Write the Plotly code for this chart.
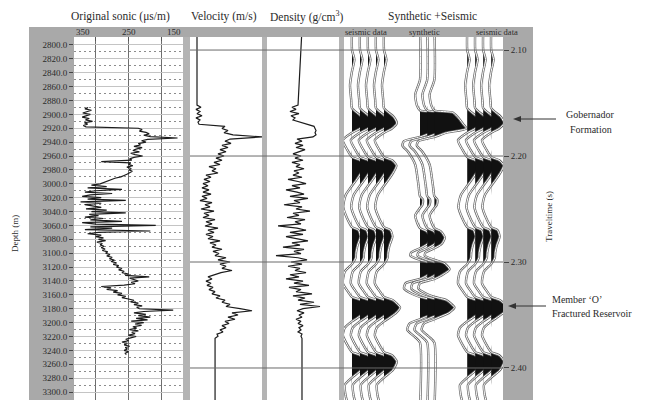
import plotly.graph_objects as go

# ---------------- well-log data ----------------
# Original sonic log (us/m), sampled every 2 m starting at 2890 m
sonic_top_depth = 2890
sonic_step = 2
sonic = [
    324, 330, 318, 327, 334, 320, 326, 335, 322, 329, 316, 331, 325, 333, 328,
    232, 225, 230, 218, 212, 222, 210, 160, 215,
    226, 218, 232, 228, 240, 225, 236, 242, 230, 246, 238, 224,
    240, 248, 244, 300, 246, 250, 242, 253,
    245, 249, 243, 247, 252,
    258, 264, 275, 282, 290, 297, 302,
    318, 290, 325, 262, 310, 330, 280, 320, 335, 300,
    325, 255, 338, 300, 330,
    315, 300, 328, 290, 318, 255, 322, 305,
    330, 296, 320, 262, 335, 310,
    200, 320, 280, 330, 210, 305, 325,
    300, 310, 296, 305, 292, 308, 298, 302, 295,
    300, 293, 298, 288, 292, 284, 290, 280, 285, 276, 282, 272, 278, 268,
    272, 262, 268, 258, 262, 250, 256,
    212, 248, 240, 232, 245, 238,
    258, 300, 282, 290, 270, 278, 262, 270, 255, 262,
    250, 240, 246, 232, 240, 225, 235,
    230, 168, 222,
    240, 218, 232, 210, 236, 215, 245, 222, 238, 226, 242,
    235, 248, 232, 244, 238, 250, 236, 246,
    255, 250, 262, 252, 258, 248, 256,
    252, 258, 250, 256, 254,
]
depth = [sonic_top_depth + sonic_step * i for i in range(len(sonic))]

# Velocity (m/s) and density (g/cm3) in two-way time, every 2 ms from 2.152 s
log_top_time = 2.152
log_step = 0.002
velocity = [
    1986, 2264, 1917, 2194, 1986, 2333, 1917, 2194, 2055, 2125,
    3930, 3722, 4139, 3861, 4486, 6500, 4278, 3930, 4347, 3722,
    4139, 3583, 4000, 3444, 3861, 3306, 3722, 3167, 3583, 2819,
    3306, 3028, 3444, 2611, 2958, 2472, 2889, 2403, 2750, 2333,
    2819, 2403, 2958, 2333, 2681, 2194, 3028, 2542, 2889, 2264,
    3167, 2472, 2819, 2403, 3236, 2611, 3028, 2542, 3444, 2750,
    3167, 2611, 3097, 2750, 3583, 2889, 3306, 3028, 3722, 3097,
    3514, 3236, 4000, 3444, 4278, 3583, 4000, 3722, 4417, 3653,
    3167, 2750, 3028, 2611, 2958, 2681, 3097, 2819, 3236, 3028,
    3583, 3306, 3930, 3722, 4278, 4000, 4972, 5806, 4417, 4833,
    4139, 4625, 3930, 4208, 3722, 4000, 3583, 3792, 3375, 3444,
]
density = [
    2.381, 2.297, 2.353, 2.269, 2.394, 2.283, 2.339, 2.311, 2.408, 2.519,
    2.603, 2.617, 2.631, 2.617, 2.631, 2.589, 2.367, 2.436, 2.339, 2.450,
    2.353, 2.478, 2.381, 2.311, 2.422, 2.339, 2.450, 2.297, 2.408, 2.353,
    2.464, 2.325, 2.394, 2.311, 2.436, 2.242, 2.381, 2.492, 2.297, 2.408,
    2.214, 2.367, 2.464, 2.269, 2.519, 2.325, 2.408, 2.186, 2.436, 2.353,
    2.547, 2.311, 2.394, 2.228, 2.478, 2.339, 2.422, 2.103, 2.367, 2.492,
    2.269, 2.450, 2.214, 2.394, 2.519, 2.297, 2.408, 2.172, 2.464, 2.325,
    2.422, 2.075, 2.381, 2.506, 2.283, 2.436, 2.242, 2.408, 2.339, 2.492,
    2.269, 2.394, 2.214, 2.450, 2.325, 2.533, 2.255, 2.422, 2.353, 2.575,
    2.311, 2.478, 2.381, 2.603, 2.408, 2.686, 2.450, 2.367, 2.464, 2.394,
    2.436, 2.353, 2.422, 2.381, 2.450, 2.394, 2.422, 2.381, 2.436, 2.422,
]
log_time = [log_top_time + log_step * i for i in range(len(velocity))]

# constant values drawn above / below the logged interval
vel_above, vel_below = 1986, 3240
den_above, den_below = 2.436, 2.436
time_above, time_below_start, time_below = 2.08, 2.372, 2.44

# ---------------- seismic / synthetic wiggles ----------------
seis_time = [2.080, 2.100, 2.109, 2.120, 2.133, 2.147, 2.155, 2.163, 2.169, 2.174,
             2.178, 2.185, 2.194, 2.201, 2.204, 2.209, 2.215, 2.223, 2.228, 2.237,
             2.248, 2.259, 2.267, 2.270, 2.276, 2.284, 2.291, 2.296, 2.302, 2.309,
             2.320, 2.328, 2.333, 2.336, 2.343, 2.348, 2.353, 2.356, 2.362, 2.369,
             2.378, 2.385, 2.388, 2.394, 2.402, 2.409, 2.416, 2.426, 2.440]
seis_amp = [0.0, 0.0, 0.3, 0.0, -0.25, -0.1, 0.0, 1.2, 1.6, 1.0,
            0.0, -1.15, -0.6, 0.0, 1.0, 1.55, 1.2, 0.5, 0.0, -0.8,
            -1.1, -0.6, 0.0, 0.8, 1.05, 0.7, 0.5, 0.45, 0.0, -0.9,
            -1.15, -0.5, 0.0, 1.1, 2.0, 1.5, 0.6, 0.0, -0.9, -1.15,
            -0.6, 0.0, 1.0, 1.6, 1.1, 0.0, -0.9, -0.8, -0.3]

syn_time = [2.080, 2.128, 2.142, 2.152, 2.157, 2.159, 2.164, 2.170, 2.174, 2.178,
            2.182, 2.186, 2.190, 2.196, 2.208, 2.227, 2.238, 2.241, 2.246, 2.249,
            2.256, 2.262, 2.268, 2.271, 2.277, 2.283, 2.287, 2.291, 2.294, 2.298,
            2.301, 2.307, 2.313, 2.316, 2.320, 2.325, 2.330, 2.333, 2.336, 2.343,
            2.348, 2.352, 2.354, 2.358, 2.364, 2.371, 2.376, 2.440]
syn_amp = [0.0, 0.0, -0.6, -0.4, 0.0, 2.3, 3.0, 3.6, 4.0, 1.5,
           0.0, -2.0, -2.2, -1.5, -0.6, -0.2, 0.0, 0.35, 0.3, 0.0,
           -0.6, -0.4, 0.0, 0.8, 1.3, 0.9, 0.0, -1.1, -1.2, 0.0,
           1.2, 1.9, 0.8, 0.0, -1.8, -2.0, -1.0, 0.0, 1.5, 2.5,
           1.8, 0.6, 0.0, -1.3, -1.6, -0.6, 0.0, 0.0]

left_traces = [1.0, 2.0, 3.0, 4.0, 5.0]
syn_traces = [9.5, 10.4, 11.3]
right_traces = [15.4, 16.4, 17.4, 18.4]

time_ticks = [2.10, 2.20, 2.30, 2.40]
depth_ticks = list(range(2800, 3301, 20))

# ---------------- figure ----------------
W, H = 648, 400
SERIF = "Liberation Serif"
INK = "#2b2b2b"
BAND = "#a9a9a9"


def fx(p):
    return p / W


def fy(p):
    return 1 - p / H


fig = go.Figure()

# logs
fig.add_trace(go.Scatter(x=sonic, y=depth, mode="lines",
                         line=dict(color="#1c1c1c", width=1.2),
                         xaxis="x", yaxis="y", hoverinfo="skip"))
fig.add_trace(go.Scatter(
    x=[vel_above] + velocity + [vel_below, vel_below],
    y=[time_above] + log_time + [time_below_start, time_below],
    mode="lines", line=dict(color="#1c1c1c", width=1.2),
    xaxis="x2", yaxis="y2", hoverinfo="skip"))
fig.add_trace(go.Scatter(
    x=[den_above] + density + [den_below, den_below],
    y=[time_above] + log_time + [time_below_start, time_below],
    mode="lines", line=dict(color="#1c1c1c", width=1.2),
    xaxis="x3", yaxis="y2", hoverinfo="skip"))


def add_wiggle(times, amps, base):
    positive = [base + max(a, 0.0) for a in amps]
    full = [base + a for a in amps]
    common = dict(xaxis="x4", yaxis="y2", hoverinfo="skip", mode="lines")
    fig.add_trace(go.Scatter(x=[base, base], y=[times[0], times[-1]],
                             line=dict(width=0, color="rgba(0,0,0,0)"), **common))
    fig.add_trace(go.Scatter(x=positive, y=times, fill="tonextx", fillcolor="#111111",
                             line=dict(width=0, shape="spline", smoothing=0.6), **common))
    fig.add_trace(go.Scatter(x=full, y=times,
                             line=dict(color="#666666", width=2.4, shape="spline", smoothing=0.6),
                             **common))
    fig.add_trace(go.Scatter(x=full, y=times,
                             line=dict(color="white", width=1.0, shape="spline", smoothing=0.6),
                             **common))


for b in left_traces:
    add_wiggle(seis_time, seis_amp, b)
for b in syn_traces:
    add_wiggle(syn_time, syn_amp, b)
for b in right_traces:
    add_wiggle(seis_time, seis_amp, b)

# ---------------- frame: grey bands and separators ----------------
shapes = []


def band(x0, x1, y0, y1, color=BAND):
    shapes.append(dict(type="rect", xref="paper", yref="paper",
                       x0=fx(x0), x1=fx(x1), y0=fy(y1), y1=fy(y0),
                       fillcolor=color, line=dict(width=0), layer="below"))


band(29, 74, 27, 400)            # depth label column
band(29, 533, 27, 37)            # header strip
band(503, 533, 27, 400)          # traveltime column
band(183, 190, 37, 400, "#b4b4b4")
band(262, 267, 37, 400, "#b4b4b4")
band(339, 344, 37, 400, "#b4b4b4")

for t in time_ticks:
    shapes.append(dict(type="line", xref="paper", yref="y2",
                       x0=fx(190), x1=fx(503), y0=t, y1=t,
                       line=dict(color="#6a6a6a", width=1), layer="above"))

# pointer arrows to the two marked horizons
for (hx, tx, yy) in [(513, 556, 119), (508, 546, 306)]:
    shapes.append(dict(type="line", xref="paper", yref="paper",
                       x0=fx(hx + 4), x1=fx(tx), y0=fy(yy), y1=fy(yy),
                       line=dict(color="#333333", width=1), layer="above"))
    shapes.append(dict(type="path", xref="paper", yref="paper",
                       path=(f"M {fx(hx)} {fy(yy)} L {fx(hx + 8)} {fy(yy - 3)} "
                             f"L {fx(hx + 8)} {fy(yy + 3)} Z"),
                       fillcolor="#333333", line=dict(width=0), layer="above"))

# ---------------- text ----------------
ann = []


def text(s, x, y, size, anchor="center", angle=0):
    ann.append(dict(text=s, x=fx(x), y=fy(y), xref="paper", yref="paper",
                    showarrow=False, xanchor=anchor, yanchor="middle",
                    textangle=angle, font=dict(family=SERIF, size=size, color=INK)))


text("Original sonic (\u03bcs/m)", 120, 17, 11.5)
text("Velocity (m/s)", 224, 17, 11.5)
text("Density (g/cm<sup>3</sup>)", 307, 17, 11.5)
text("Synthetic +Seismic", 432, 17, 11.5)

text("seismic data", 366, 32, 8.5)
text("synthetic", 424, 32, 8.5)
text("seismic data", 497, 32, 8.5)

# sonic scale labels
for val, anchor in [(350, "left"), (250, "center"), (150, "right")]:
    ann.append(dict(text=str(val), x=val, y=fy(32), xref="x", yref="paper",
                    showarrow=False, xanchor=anchor, yanchor="middle",
                    font=dict(family=SERIF, size=9, color=INK)))

text("Depth (m)", 15, 234, 9, angle=-90)
text("Traveltime (s)", 549, 217, 9, angle=-90)

text("Gobernador", 590, 115, 10)
text("Formation", 591, 130, 10)
text("Member \u2018O\u2019", 550, 299, 10, anchor="left")
text("Fractured Reservoir", 550, 313, 10, anchor="left")

# ---------------- axes ----------------
ydom = [0, fy(37)]
fig.update_layout(
    width=W, height=H, autosize=False,
    margin=dict(l=0, r=0, t=0, b=0),
    paper_bgcolor="white", plot_bgcolor="rgba(0,0,0,0)",
    showlegend=False,
    shapes=shapes, annotations=ann,
    xaxis=dict(domain=[fx(74), fx(183)], range=[350, 150], anchor="y", side="top",
               tickvals=[350, 310, 250, 190, 150], showticklabels=False,
               ticks="inside", ticklen=4, tickcolor="#555555",
               showgrid=True, gridcolor="#6e6e6e", gridwidth=1.2, zeroline=False),
    yaxis=dict(domain=ydom, range=[3311.5, 2788.5], anchor="x",
               tickvals=depth_ticks, ticktext=[f"{d}.0" for d in depth_ticks],
               ticks="outside", ticklen=4, tickcolor="#444444",
               tickfont=dict(family=SERIF, size=9, color=INK),
               showgrid=True, gridcolor="#c4c4c4", gridwidth=1, zeroline=False,
               minor=dict(tickvals=list(range(2810, 3300, 20)), showgrid=True,
                          gridcolor="#8c8c8c", griddash="2px,3px", gridwidth=1)),
    xaxis2=dict(domain=[fx(190), fx(262)], range=[1500, 6500], anchor="y2", visible=False),
    xaxis3=dict(domain=[fx(267), fx(339)], range=[1.95, 2.95], anchor="y2", visible=False),
    xaxis4=dict(domain=[fx(344), fx(503)], range=[0, 19.875], anchor="y2", visible=False),
    yaxis2=dict(domain=ydom, range=[2.4302, 2.0877], anchor="x4", side="right",
                tickvals=time_ticks, ticktext=[f"{t:.2f}" for t in time_ticks],
                ticks="outside", ticklen=5, tickcolor="#444444",
                tickfont=dict(family=SERIF, size=9, color=INK),
                showgrid=False, zeroline=False),
)

fig.write_html("out.html")
